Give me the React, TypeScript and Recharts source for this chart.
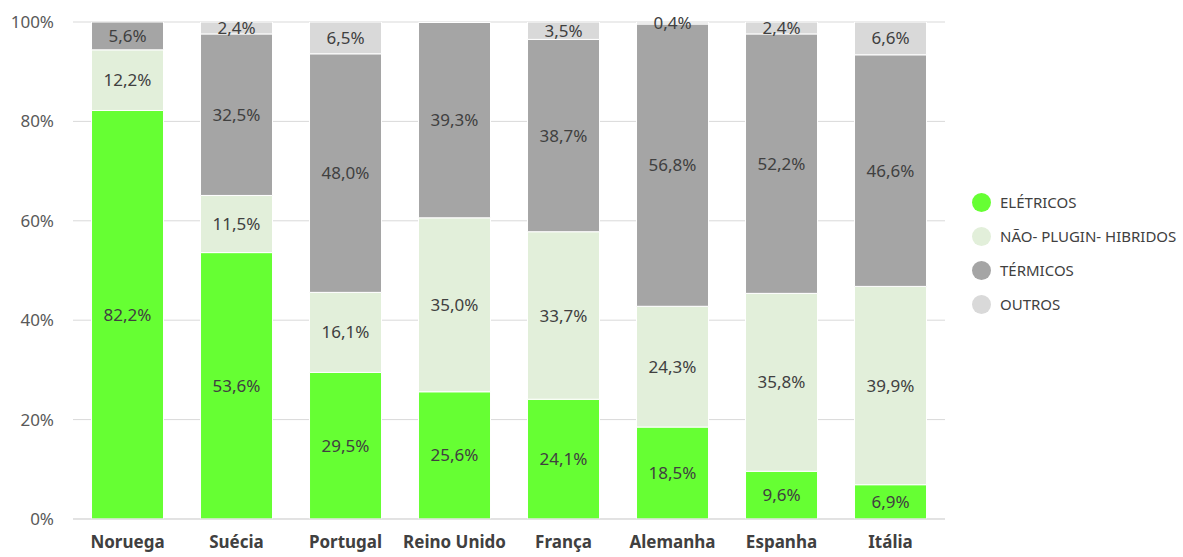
import { BarChart, Bar, XAxis, YAxis, CartesianGrid, LabelList } from "recharts"

const countries = ["Noruega", "Suécia", "Portugal", "Reino Unido", "França", "Alemanha", "Espanha", "Itália"]
const eletricos = [82.2, 53.6, 29.5, 25.6, 24.1, 18.5, 9.6, 6.9]
const hibridos = [12.2, 11.5, 16.1, 35.0, 33.7, 24.3, 35.8, 39.9]
const termicos = [5.6, 32.5, 48.0, 39.3, 38.7, 56.8, 52.2, 46.6]
const outros = [0, 2.4, 6.5, 0, 3.5, 0.4, 2.4, 6.6]
const yTicks = [0, 20, 40, 60, 80, 100]

const series = [
  { key: "eletricos", name: "ELÉTRICOS", color: "#66FF33" },
  { key: "hibridos", name: "NÃO- PLUGIN- HIBRIDOS", color: "#E2EFDA" },
  { key: "termicos", name: "TÉRMICOS", color: "#A5A5A5" },
  { key: "outros", name: "OUTROS", color: "#D9D9D9" },
]

const data = countries.map((c, i) => ({
  name: c,
  eletricos: eletricos[i],
  hibridos: hibridos[i],
  termicos: termicos[i],
  outros: outros[i],
}))

const font = "'Segoe UI', 'Noto Sans', 'Open Sans', sans-serif"
const fmt = (v: any) => (v > 0 ? v.toFixed(1).replace(".", ",") + "%" : "")

export default function App() {
  return (
    <div style={{ position: "absolute", left: 0, top: 0, width: 1183, height: 557, fontFamily: font, background: "#fff" }}>
      <BarChart
        width={1183}
        height={557}
        data={data}
        margin={{ top: 22, right: 238, left: 0, bottom: 0 }}
        barCategoryGap="17%"
      >
        <CartesianGrid vertical={false} stroke="#D9D9D9" />
        <XAxis
          dataKey="name"
          height={38}
          tickLine={false}
          axisLine={{ stroke: "#D9D9D9" }}
          tickMargin={11}
          tick={{ fill: "#404040", fontSize: 17, fontWeight: 700, fontFamily: font }}
          interval={0}
        />
        <YAxis
          width={73}
          domain={[0, 100]}
          ticks={yTicks}
          allowDataOverflow
          tickLine={false}
          axisLine={false}
          tickMargin={13}
          tickFormatter={(v) => v + "%"}
          tick={{ fill: "#595959", fontSize: 17, fontFamily: font }}
        />
        {series.map((s) => (
          <Bar key={s.key} dataKey={s.key} name={s.name} stackId="a" fill={s.color} stroke="#fff" strokeWidth={1} isAnimationActive={false}>
            <LabelList
              dataKey={s.key}
              position="center"
              formatter={fmt}
              style={{ fill: "#404040", fontSize: 17, fontFamily: font }}
            />
          </Bar>
        ))}
      </BarChart>
      <div style={{ position: "absolute", left: 972, top: 185 }}>
        {series.map((s) => (
          <div key={s.key} style={{ display: "flex", alignItems: "center", height: 34 }}>
            <span style={{ width: 19, height: 19, borderRadius: "50%", background: s.color, display: "inline-block", marginRight: 9 }} />
            <span style={{ fontSize: 15, color: "#404040" }}>{s.name}</span>
          </div>
        ))}
      </div>
    </div>
  )
}
